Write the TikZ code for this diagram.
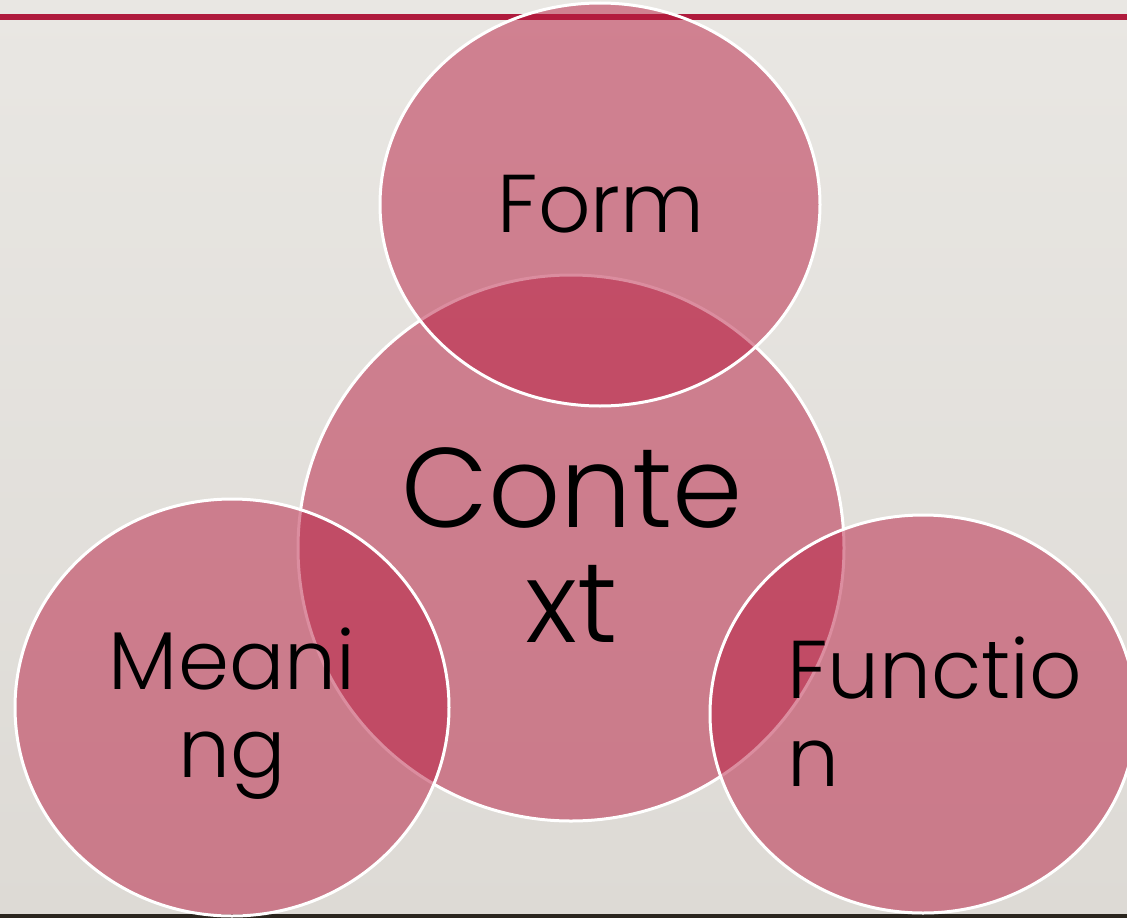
\documentclass[tikz,border=0pt]{standalone}
\usepackage{fontspec}
\setmainfont{Poppins}[UprightFont=* Light]
\usetikzlibrary{shapes.geometric}
\definecolor{crim}{HTML}{B81C40}
\definecolor{bgA}{HTML}{E9E7E3}
\definecolor{bgB}{HTML}{DDDAD5}
\definecolor{darkstrip}{HTML}{2A251E}
\tikzset{
  blob/.style={ellipse, draw=white, line width=3pt, fill=crim, fill opacity=0.5, draw opacity=1, inner sep=0pt},
  lbl/.style={text=black, inner sep=0pt, anchor=base, font=\fontsize{82}{88}\selectfont},
  biglbl/.style={text=black, inner sep=0pt, anchor=base, font=\fontsize{113}{115}\selectfont}
}
\begin{document}
\begin{tikzpicture}[x=1pt,y=-1pt]
\useasboundingbox (0,0) rectangle (1127,918);
\shade[top color=bgA, bottom color=bgB] (0,0) rectangle (1127,918);
\fill[crim!95!black] (0,13.5) rectangle (1127,20);
\fill[darkstrip] (0,914) rectangle (1127,918);
% circles
\node[blob, minimum width=546pt, minimum height=546pt] (context) at (571,548) {};
\node[blob, minimum width=440pt, minimum height=403pt] (form) at (600,204.5) {};
\node[blob, minimum width=434pt, minimum height=417pt] (meaning) at (232,707.5) {};
\node[blob, minimum width=426pt, minimum height=398pt] (function) at (923,714) {};
% labels (base anchor = baseline of the last line)
\node[lbl] (formtxt) at (601,232) {Form};
\node[biglbl, align=center] (contexttxt) at (572,642) {Conte\\xt};
\node[lbl, align=center] (meaningtxt) at (232,777) {Meani\\ng};
\node[lbl, align=left, anchor=base west] (functiontxt) at (787,786) {Functio\\n};
\end{tikzpicture}
\end{document}
